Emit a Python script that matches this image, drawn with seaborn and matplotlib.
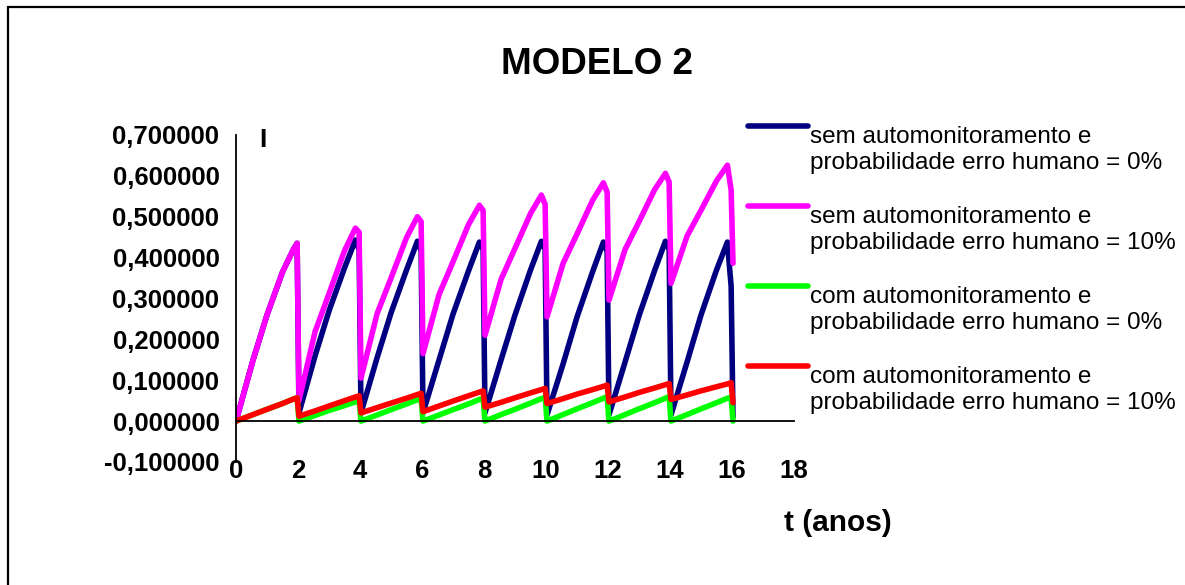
import matplotlib
matplotlib.use('AGG')
import matplotlib.pyplot as plt
from matplotlib.patches import Rectangle
from matplotlib.legend_handler import HandlerLine2D
import seaborn as sns
import numpy as np
import pandas as pd

# time in years (sawtooth, 2-year cycles)
t_anos = [0.00, 0.55, 1.00, 1.50, 1.85, 1.97,
          2.03, 2.55, 3.00, 3.50, 3.85, 3.97,
          4.03, 4.55, 5.00, 5.50, 5.85, 5.97,
          6.03, 6.55, 7.00, 7.50, 7.85, 7.97,
          8.03, 8.55, 9.00, 9.50, 9.85, 9.97,
          10.03, 10.55, 11.00, 11.50, 11.85, 11.97,
          12.03, 12.55, 13.00, 13.50, 13.85, 13.97,
          14.03, 14.55, 15.00, 15.50, 15.85, 15.97,
          16.03]

# sem automonitoramento, erro humano 0%
sem_0 = [0.0, 0.15, 0.26, 0.365, 0.42, 0.435,
         0.02, 0.16, 0.27, 0.375, 0.443, 0.42,
         0.02, 0.155, 0.265, 0.37, 0.44, 0.418,
         0.02, 0.15, 0.262, 0.368, 0.438, 0.42,
         0.02, 0.15, 0.26, 0.37, 0.44, 0.42,
         0.015, 0.14, 0.255, 0.365, 0.438, 0.415,
         0.015, 0.145, 0.258, 0.368, 0.44, 0.42,
         0.015, 0.145, 0.26, 0.37, 0.438, 0.33,
         0.01]

# sem automonitoramento, erro humano 10%
sem_10 = [0.0, 0.15, 0.26, 0.365, 0.42, 0.435,
          0.05, 0.219, 0.312, 0.417, 0.472, 0.462,
          0.105, 0.263, 0.35, 0.449, 0.50, 0.488,
          0.165, 0.31, 0.39, 0.481, 0.528, 0.515,
          0.21, 0.347, 0.423, 0.508, 0.553, 0.53,
          0.255, 0.386, 0.458, 0.54, 0.583, 0.56,
          0.296, 0.42, 0.488, 0.566, 0.606, 0.585,
          0.337, 0.453, 0.516, 0.588, 0.626, 0.565,
          0.386]

# com automonitoramento, erro humano 0%
com_0 = [0.0, 0.016, 0.029, 0.043, 0.054, 0.057,
         0.0, 0.014, 0.026, 0.038, 0.047, 0.05,
         0.0, 0.015, 0.028, 0.042, 0.052, 0.055,
         0.0, 0.015, 0.028, 0.042, 0.053, 0.056,
         0.0, 0.016, 0.029, 0.044, 0.055, 0.058,
         0.0, 0.016, 0.03, 0.045, 0.056, 0.06,
         0.0, 0.016, 0.03, 0.045, 0.056, 0.06,
         0.0, 0.016, 0.03, 0.045, 0.056, 0.058,
         0.0]

# com automonitoramento, erro humano 10%
com_10 = [0.0, 0.016, 0.029, 0.043, 0.054, 0.057,
          0.012, 0.025, 0.037, 0.05, 0.059, 0.062,
          0.02, 0.033, 0.044, 0.056, 0.065, 0.068,
          0.023, 0.037, 0.049, 0.062, 0.071, 0.074,
          0.034, 0.046, 0.057, 0.069, 0.077, 0.08,
          0.043, 0.055, 0.066, 0.077, 0.085, 0.088,
          0.047, 0.059, 0.07, 0.081, 0.089, 0.092,
          0.053, 0.064, 0.074, 0.084, 0.091, 0.094,
          0.045]

SERIES = ['sem automonitoramento e\nprobabilidade erro humano = 0%',
          'sem automonitoramento e\nprobabilidade erro humano = 10%',
          'com automonitoramento e\nprobabilidade erro humano = 0%',
          'com automonitoramento e\nprobabilidade erro humano = 10%']
COLORS = ['#000080', '#FF00FF', '#00FF00', '#FF0000']

X_TICKS = [0, 2, 4, 6, 8, 10, 12, 14, 16, 18]
Y_TICKS = [-0.1, 0.0, 0.1, 0.2, 0.3, 0.4, 0.5, 0.6, 0.7]

##################################################################################
# build long frame
df = pd.concat([pd.DataFrame({'t': t_anos, 'I': vals, 'serie': name})
                for name, vals in zip(SERIES, [sem_0, sem_10, com_0, com_10])],
               ignore_index=True)

sns.set_style('white')
plt.rcParams['font.family'] = ['Liberation Sans', 'DejaVu Sans']
plt.rcParams['text.color'] = 'black'
plt.rcParams['axes.labelcolor'] = 'black'
plt.rcParams['xtick.color'] = 'black'
plt.rcParams['ytick.color'] = 'black'

fig = plt.figure(figsize=(11.85, 5.85), dpi=100)
ax = fig.add_axes([0.1992, 0.2103, 0.4709, 0.5590])

sns.lineplot(data=df, x='t', y='I', hue='serie', hue_order=SERIES,
             palette=COLORS, estimator=None, sort=False, linewidth=4.0,
             legend=False, ax=ax)
for ln in ax.get_lines():
    ln.set_solid_joinstyle('round')
    ln.set_solid_capstyle('round')

ax.set_xlim(0, 18)
ax.set_ylim(-0.1, 0.7)
ax.set_xticks(X_TICKS)
ax.set_yticks(Y_TICKS)
ax.set_yticklabels([('%.6f' % v).replace('.', ',') for v in Y_TICKS])

for s in ['top', 'right']:
    ax.spines[s].set_visible(False)
ax.spines['bottom'].set_position(('data', 0))
for s in ['left', 'bottom']:
    ax.spines[s].set_color('black')
    ax.spines[s].set_linewidth(1.3)

ax.tick_params(axis='both', direction='out', length=4, width=1.3,
               color='black', labelcolor='black', labelsize=18.5)
ax.tick_params(axis='x', pad=23)
ax.tick_params(axis='y', pad=8)
for lab in ax.get_xticklabels() + ax.get_yticklabels():
    lab.set_fontweight('bold')

ax.set_ylabel('I', rotation=0, fontsize=19, fontweight='bold', ha='center', va='center')
ax.yaxis.set_label_coords(0.048, 0.985)
ax.set_xlabel('t (anos)', fontsize=21.5, fontweight='bold', ha='center', va='center')
ax.xaxis.set_label_coords(1.079, -0.187)

fig.text(0.504, 0.889, 'MODELO 2', ha='center', va='center',
         fontsize=26.5, fontweight='bold')


# legend handle sits at the top of the two-line label
class RaisedLine(HandlerLine2D):
    def create_artists(self, legend, orig_handle, xdescent, ydescent,
                       width, height, fontsize, trans):
        arts = super().create_artists(legend, orig_handle, xdescent, ydescent,
                                      width, height, fontsize, trans)
        for a in arts:
            a.set_ydata(np.asarray(a.get_ydata()) + 17)
        return arts


handles = ax.get_lines()[:4]
leg = fig.legend(handles, SERIES, loc='upper left',
                 bbox_to_anchor=(0.631, 0.785), frameon=False,
                 fontsize=17.5, handlelength=2.47, handletextpad=0.1,
                 labelspacing=1.3, borderpad=0, borderaxespad=0,
                 handler_map={h: RaisedLine() for h in handles})
for txt in leg.get_texts():
    txt.set_linespacing(1.26)
for lh in leg.get_lines():
    lh.set_linewidth(4.0)
    lh.set_solid_capstyle('round')

fig.patches.append(Rectangle((8 / 1185, -0.2), 1.5, 1.188, transform=fig.transFigure,
                             fill=False, edgecolor='black', linewidth=1.6))

plt.savefig('out.png', dpi=100)
